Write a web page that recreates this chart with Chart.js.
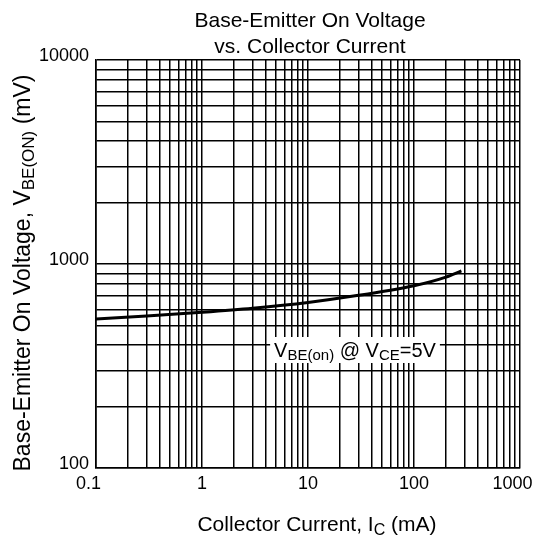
<!DOCTYPE html>
<html>
<head>
<meta charset="utf-8">
<script src="https://cdn.jsdelivr.net/npm/chart.js@4.4.0/dist/chart.umd.min.js"></script>
<style>
    html, body { margin: 0; padding: 0; background: #fff; }
    #wrap { width: 537px; height: 539px; }
</style>
</head>
<body>
<div id="wrap"><canvas id="vbeChart" width="537" height="539"></canvas></div>
<script>
// values (mA -> mV)
const currentMA = [0.1, 0.3, 1, 3, 10, 30, 100, 200, 280];
const vbeOnMV = [538, 556, 580, 607, 648, 702, 782, 862, 925];

// decade tick labels
const xTickLabels = ['0.1', '1', '10', '100', '1000'];
const yTickLabels = ['100', '1000', '10000'];

const titleLines = ['Base-Emitter On Voltage', 'vs. Collector Current'];
const FONT = '"Liberation Sans", Arial, Helvetica, sans-serif';

// grid line values: 1..9 in every decade
function gridValues(labels) {
    const vals = [];
    labels.forEach((l, i) => {
        const d = parseFloat(l);
        if (i === labels.length - 1) {
            vals.push(d);
            return;
        }
        for (let k = 1; k <= 9; k++) vals.push(parseFloat((k * d).toPrecision(6)));
    });
    return vals;
}

function tickLabel(labels, nudgeEnds) {
    return function (value) {
        const idx = labels.findIndex(l => Math.abs(parseFloat(l) - value) < 1e-9);
        if (idx < 0) return '';
        // first and last x labels sit a bit to the left in the original
        if (nudgeEnds && (idx === 0 || idx === labels.length - 1)) return labels[idx] + '   ';
        return labels[idx];
    };
}

// text with subscripts: parts = [[text, isSub], ...]
function richWidth(ctx, parts, size) {
    const subSize = Math.round(size * 0.74);
    return parts.map(([t, sub]) => {
        ctx.font = (sub ? subSize : size) + 'px ' + FONT;
        return ctx.measureText(t).width;
    });
}

function drawRich(ctx, parts, x, y, size) {
    const subSize = Math.round(size * 0.74);
    const widths = richWidth(ctx, parts, size);
    const total = widths.reduce((a, b) => a + b, 0);
    let cx = x - total / 2;
    ctx.textAlign = 'left';
    ctx.textBaseline = 'alphabetic';
    parts.forEach(([t, sub], i) => {
        ctx.font = (sub ? subSize : size) + 'px ' + FONT;
        ctx.fillText(t, cx, sub ? y + size * 0.17 : y);
        cx += widths[i];
    });
    return total;
}

const textPlugin = {
    id: 'textPlugin',
    afterDraw(chart) {
        const ctx = chart.ctx;
        const area = chart.chartArea;
        const mid = (area.left + area.right) / 2;
        ctx.save();
        ctx.fillStyle = '#000';

        // title
        ctx.font = '21px ' + FONT;
        ctx.textAlign = 'center';
        ctx.textBaseline = 'alphabetic';
        ctx.fillText(titleLines[0], mid + 2, 27);
        ctx.fillText(titleLines[1], mid + 2, 53);

        // x axis title
        drawRich(ctx, [['Collector Current, I', false], ['C', true], [' (mA)', false]], mid + 9, 531, 21);

        // y axis title
        ctx.save();
        ctx.translate(30, 273);
        ctx.rotate(-Math.PI / 2);
        drawRich(ctx, [['Base-Emitter On Voltage, V', false], ['BE(ON)', true], [' (mV)', false]], 0, 0, 23);
        ctx.restore();

        // curve label with white box
        const lx = 355, ly = 357;
        const parts = [['V', false], ['BE(on)', true], [' @ V', false], ['CE', true], ['=5V', false]];
        const w = richWidth(ctx, parts, 20).reduce((a, b) => a + b, 0);
        ctx.fillStyle = '#fff';
        ctx.fillRect(lx - w / 2 - 4, ly - 20, w + 8, 26);
        ctx.fillStyle = '#000';
        drawRich(ctx, parts, lx, ly, 20);
        ctx.restore();
    }
};

document.addEventListener('DOMContentLoaded', () => {
    const ctx = document.getElementById('vbeChart').getContext('2d');
    const xGrid = gridValues(xTickLabels);
    const yGrid = gridValues(yTickLabels);

    new Chart(ctx, {
        type: 'line',
        data: {
            datasets: [{
                label: 'VBE(on) @ VCE=5V',
                data: currentMA.map((c, i) => ({ x: c, y: vbeOnMV[i] })),
                borderColor: '#000',
                borderWidth: 3,
                pointRadius: 0,
                cubicInterpolationMode: 'monotone',
                fill: false
            }]
        },
        options: {
            responsive: false,
            animation: false,
            layout: { padding: { top: 60, right: 17, left: 0, bottom: 0 } },
            plugins: {
                legend: { display: false },
                tooltip: { enabled: false },
                title: { display: false }
            },
            scales: {
                x: {
                    type: 'logarithmic',
                    min: 0.1,
                    max: 1000,
                    afterBuildTicks: s => { s.ticks = xGrid.map(v => ({ value: v })); },
                    afterFit: s => {
                        s.height = 71;
                        s.paddingLeft = 0;
                        s.paddingRight = 0;
                    },
                    grid: { color: '#000', lineWidth: 1.5, drawTicks: false },
                    border: { color: '#000', width: 1.6 },
                    ticks: {
                        autoSkip: false,
                        maxRotation: 0,
                        padding: 5,
                        color: '#000',
                        font: { family: FONT, size: 18 },
                        callback: tickLabel(xTickLabels, true)
                    }
                },
                y: {
                    type: 'logarithmic',
                    min: 100,
                    max: 10000,
                    afterBuildTicks: s => { s.ticks = yGrid.map(v => ({ value: v })); },
                    afterFit: s => {
                        s.width = 96;
                        s.paddingTop = 0;
                        s.paddingBottom = 0;
                    },
                    grid: { color: '#000', lineWidth: 1.5, drawTicks: false },
                    border: { color: '#000', width: 1.6 },
                    ticks: {
                        autoSkip: false,
                        padding: 7,
                        labelOffset: -4,
                        color: '#000',
                        font: { family: FONT, size: 18 },
                        callback: tickLabel(yTickLabels, false)
                    }
                }
            }
        },
        plugins: [textPlugin]
    });
});
</script>
</body>
</html>
